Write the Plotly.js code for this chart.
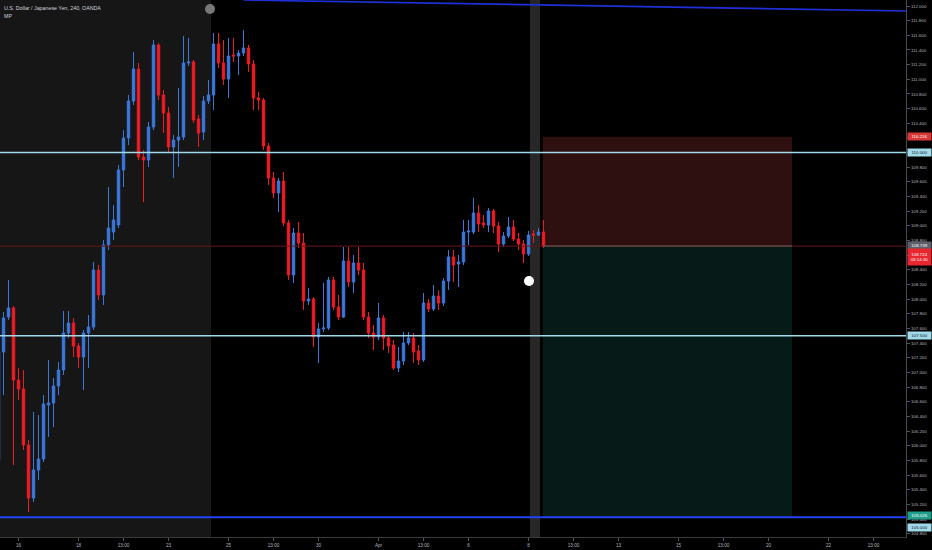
<!DOCTYPE html>
<html><head><meta charset="utf-8">
<script src="https://cdn.plot.ly/plotly-3.0.1.min.js"></script>
<style>html,body{margin:0;padding:0;background:#000;}#chart{width:932px;height:550px;}</style>
</head><body><div id="chart"></div>
<script>
// USD/JPY 240-minute candles (bar index; bar 3 = 16 Mar first bar)
const firstBar = -1;
const openP = [105.806,107.280,107.757,107.880,106.898,106.775,106.011,105.288,105.670,105.820,
106.557,106.584,106.816,107.034,107.539,107.675,107.362,107.211,107.539,107.621,
108.398,108.057,108.740,108.917,109.012,109.763,110.199,110.704,111.141,109.940,
109.899,110.349,111.468,110.786,110.540,110.077,110.172,110.213,111.223,111.236,
110.459,110.281,110.704,110.786,111.482,111.223,111.004,111.332,111.318,111.359,
111.427,111.209,110.745,110.718,110.090,109.654,109.449,109.613,109.040,108.330,
108.903,108.767,107.976,108.003,107.484,107.594,107.607,108.262,107.894,107.757,
108.521,108.235,108.494,108.398,107.757,107.539,107.484,107.744,107.471,107.375,
107.061,107.157,107.403,107.471,107.293,107.171,107.948,107.866,108.044,107.948,
108.248,108.576,108.480,108.508,108.917,108.917,109.176,109.040,109.012,109.203,
108.999,108.753,108.862,108.985,108.821,108.753,108.617,108.890,108.876,108.917];
const highP = [107.375,107.825,108.262,107.907,107.061,107.034,106.079,106.461,106.420,106.693,
107.171,106.925,107.143,107.839,107.839,107.744,107.403,107.580,107.785,108.508,
108.467,108.808,109.531,109.285,109.831,110.308,110.786,111.373,111.223,110.036,
110.418,111.536,111.495,110.854,110.622,110.240,110.881,111.591,111.564,111.263,
110.513,110.772,110.991,111.632,111.632,111.536,111.564,111.564,111.400,111.673,
111.468,111.263,110.827,110.745,110.131,109.735,109.654,109.735,109.081,108.971,
109.053,108.903,108.153,108.030,107.675,108.221,108.303,108.303,108.057,108.712,
108.712,108.603,108.712,108.494,107.825,107.648,107.948,107.785,107.512,107.443,
107.348,107.553,107.553,107.539,107.375,108.085,108.003,108.194,108.126,108.289,
108.671,108.671,108.603,109.081,109.081,109.381,109.285,109.149,109.244,109.231,
109.053,108.917,109.122,109.081,108.903,108.808,108.931,108.944,108.971,109.081];
const lowP = [105.670,106.693,107.716,105.738,106.625,105.943,105.097,105.233,105.533,105.779,
106.120,106.256,106.693,106.966,107.471,107.211,107.061,106.761,107.061,107.580,
107.989,107.921,108.671,108.808,108.971,109.531,110.104,110.650,109.899,109.326,
109.804,110.308,110.718,110.268,109.995,109.654,109.804,110.172,111.182,110.404,
110.077,110.172,110.663,110.581,111.154,110.922,110.745,111.236,111.059,111.318,
111.100,110.581,110.581,110.036,109.558,109.381,109.190,108.999,108.262,108.221,
108.699,107.853,107.921,107.348,107.130,107.553,107.580,107.853,107.716,107.744,
108.167,108.085,108.330,107.716,107.471,107.307,107.443,107.307,107.266,107.034,
107.007,107.102,107.375,107.130,107.102,107.143,107.825,107.839,107.853,107.907,
108.126,108.235,108.167,108.467,108.740,108.890,108.917,108.971,108.917,108.903,
108.644,108.712,108.835,108.794,108.671,108.494,108.589,108.767,108.862,108.699];
const closeP = [107.280,107.744,107.880,106.898,106.775,106.011,105.288,105.670,105.820,106.570,
106.584,106.816,107.034,107.539,107.675,107.362,107.211,107.539,107.621,108.398,
108.057,108.740,108.971,109.081,109.763,110.199,110.704,111.141,109.940,109.899,
110.349,111.468,110.786,110.540,110.077,110.172,110.213,111.223,111.236,110.445,
110.268,110.704,110.786,111.482,111.223,111.004,111.318,111.318,111.359,111.427,
111.209,110.745,110.718,110.090,109.654,109.449,109.613,109.040,108.330,108.903,
108.767,107.976,108.003,107.484,107.594,107.607,108.262,107.894,107.757,108.521,
108.235,108.494,108.398,107.757,107.539,107.484,107.744,107.471,107.362,107.061,
107.157,107.403,107.471,107.280,107.171,107.948,107.866,108.044,107.948,108.248,
108.576,108.467,108.508,108.917,108.931,109.176,109.026,109.012,109.203,108.999,
108.753,108.862,108.985,108.821,108.753,108.617,108.876,108.876,108.917,108.726];

const tickBars = [3,15,24,33,45,54,63,75,84,93,105,114,123,135,144,153,165,174];
const tickLabels = ['16','18','13:00','23','25','13:00','30','Apr','13:00','6','8','13:00','13','15','13:00','20','22','13:00'];

const levelLines = [110.000, 107.500];
const lowerBlueLevel = 105.026;
const lastPrice = 108.724;
const prevPrice = 108.739;
const riskBox = {startBar: 107.85, endBar: 157.7, entry: 108.726, stop: 110.216, target: 105.026};
const trendBars = [48, 180.5];
const trendPrices = [112.082, 111.932];
const shadedBars = [-5, 41.5];
const cursorBars = [105.3, 107.3];
const dotBar = [105.1], dotPrice = [108.248];
const handleBar = [41.3], handlePrice = [111.959];
const xRange = [-0.7, 180.5];
const yRange = [104.756, 112.082];

const bars = openP.map((_, i) => firstBar + i);
const UP = '#3b78db', DN = '#ee1c24';

const traces = [
  {type:'candlestick', x:bars, open:openP, high:highP, low:lowP, close:closeP,
   increasing:{line:{color:UP, width:1}, fillcolor:UP},
   decreasing:{line:{color:DN, width:1}, fillcolor:DN},
   whiskerwidth:0, hoverinfo:'skip', showlegend:false},
  {type:'scatter', mode:'markers', x:dotBar, y:dotPrice, marker:{size:10, color:'#ffffff'},
   hoverinfo:'skip', showlegend:false, cliponaxis:false},
  {type:'scatter', mode:'markers', x:handleBar, y:handlePrice, marker:{size:10, color:'#787878'},
   hoverinfo:'skip', showlegend:false, cliponaxis:false}
];

const shapes = [
  {type:'rect', layer:'below', xref:'x', yref:'paper', x0:shadedBars[0], x1:shadedBars[1], y0:0, y1:1, fillcolor:'#161616', line:{width:0}},
  {type:'rect', layer:'below', xref:'x', yref:'paper', x0:cursorBars[0], x1:cursorBars[1], y0:0, y1:1, fillcolor:'#272727', line:{width:0}},
  {type:'rect', layer:'below', xref:'x', yref:'y', x0:riskBox.startBar, x1:riskBox.endBar, y0:riskBox.entry, y1:riskBox.stop, fillcolor:'#2f1011', line:{width:0}},
  {type:'rect', layer:'below', xref:'x', yref:'y', x0:riskBox.startBar, x1:riskBox.endBar, y0:riskBox.target, y1:riskBox.entry, fillcolor:'#061b18', line:{width:0}},
  {type:'line', layer:'above', xref:'paper', yref:'y', x0:0, x1:1, y0:lastPrice, y1:lastPrice, line:{color:'#6a1515', width:1}},
  {type:'line', layer:'above', xref:'x', yref:'y', x0:riskBox.startBar, x1:riskBox.endBar, y0:riskBox.entry, y1:riskBox.entry, line:{color:'#6d625e', width:1}},
  {type:'line', layer:'above', xref:'paper', yref:'y', x0:0, x1:1, y0:levelLines[0], y1:levelLines[0], line:{color:'#9fd9ea', width:1.5}},
  {type:'line', layer:'above', xref:'paper', yref:'y', x0:0, x1:1, y0:levelLines[1], y1:levelLines[1], line:{color:'#9fd9ea', width:1.5}},
  {type:'line', layer:'above', xref:'paper', yref:'y', x0:0, x1:1, y0:lowerBlueLevel, y1:lowerBlueLevel, line:{color:'#2443f0', width:2}},
  {type:'line', layer:'above', xref:'x', yref:'y', x0:trendBars[0], x1:trendBars[1], y0:trendPrices[0], y1:trendPrices[1], line:{color:'#1f30d8', width:1.6}}
];

function axisLabel(price, text, bg, fg, yshift, h) {
  return {xref:'paper', yref:'y', x:1, y:price, xanchor:'left', yanchor:'middle', xshift:1, yshift:yshift||0,
    text:text, showarrow:false, bgcolor:bg, font:{family:'Liberation Sans, Arial, sans-serif', size:4.4, color:fg},
    width:23, height:h||7, borderpad:0, align:'center'};
}
const annotations = [
  {xref:'paper', yref:'paper', x:0, y:1, xanchor:'left', yanchor:'top', xshift:2, yshift:-3, showarrow:false,
   text:'U.S. Dollar / Japanese Yen, 240, OANDA', font:{family:'Liberation Sans, Arial, sans-serif', size:5.3, color:'#d1d4dc'}},
  {xref:'paper', yref:'paper', x:0, y:1, xanchor:'left', yanchor:'top', xshift:2, yshift:-11, showarrow:false,
   text:'MP', font:{family:'Liberation Sans, Arial, sans-serif', size:5.3, color:'#d1d4dc'}},
  axisLabel(riskBox.stop, riskBox.stop.toFixed(3), '#d93636', '#ffffff'),
  axisLabel(levelLines[0], levelLines[0].toFixed(3), '#9fd9ea', '#131722'),
  axisLabel(prevPrice, prevPrice.toFixed(3), '#5d606b', '#ffffff'),
  axisLabel(lastPrice, lastPrice.toFixed(3) + '<br>03:14:30', '#e8262e', '#ffffff', -11, 16),
  axisLabel(levelLines[1], levelLines[1].toFixed(3), '#9fd9ea', '#131722'),
  axisLabel(riskBox.target, riskBox.target.toFixed(3), '#1f9e8c', '#ffffff', 2),
  axisLabel(105.000, '105.000', '#9fd9ea', '#131722', -8)
];

const layout = {
  width:932, height:550,
  margin:{l:0, r:26, t:0, b:13, pad:0},
  paper_bgcolor:'#000000', plot_bgcolor:'#000000',
  showlegend:false, dragmode:false,
  xaxis:{type:'linear', range:xRange, rangeslider:{visible:false}, showgrid:false, zeroline:false,
    tickmode:'array', tickvals:tickBars, ticktext:tickLabels, ticks:'outside', ticklen:3, tickcolor:'#555555',
    showline:true, linecolor:'#3a3a3a', linewidth:1,
    tickfont:{family:'Liberation Sans, Arial, sans-serif', size:4.6, color:'#b2b5be'}},
  yaxis:{side:'right', range:yRange, showgrid:false, zeroline:false, dtick:0.2, tick0:0, tickformat:'.3f',
    ticks:'outside', ticklen:3, tickcolor:'#555555', showline:true, linecolor:'#4a4a4a', linewidth:1,
    tickfont:{family:'Liberation Sans, Arial, sans-serif', size:4.4, color:'#b2b5be'}},
  shapes:shapes, annotations:annotations
};
Plotly.newPlot('chart', traces, layout, {displayModeBar:false, staticPlot:true});
</script></body></html>
